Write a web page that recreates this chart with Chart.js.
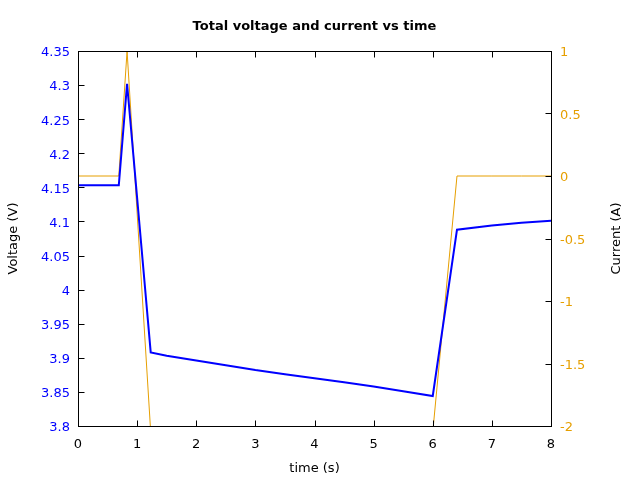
<!DOCTYPE html>
<html><head><meta charset="utf-8">
<script src="https://cdn.jsdelivr.net/npm/chart.js@4/dist/chart.umd.min.js"></script>
<style>html,body{margin:0;padding:0;background:#fff}</style>
</head><body>
<canvas id="c" width="640" height="480" style="width:640px;height:480px;display:block"></canvas>
<script>
// Data
const timeS    = [0, 0.69, 0.83, 1.23, 1.5, 2, 2.5, 3, 3.5, 4, 4.5, 5, 5.5, 6.0, 6.41, 7, 7.5, 8];
const voltageV = [4.153, 4.153, 4.302, 3.908, 3.903, 3.896, 3.889, 3.882, 3.876, 3.870, 3.864, 3.858, 3.851, 3.844, 4.088, 4.094, 4.098, 4.101];
const currentA = [0, 0, 1, -2.05, -2.05, -2.05, -2.05, -2.05, -2.05, -2.05, -2.05, -2.05, -2.05, -2.05, 0, 0, 0, 0];
const timeTicks = [0, 1, 2, 3, 4, 5, 6, 7, 8];
const voltTicks = [3.8, 3.85, 3.9, 3.95, 4, 4.05, 4.1, 4.15, 4.2, 4.25, 4.3, 4.35];
const currTicks = [-2, -1.5, -1, -0.5, 0, 0.5, 1];
const chartTitle = 'Total voltage and current vs time';

const BLUE = '#0000ff';
const ORANGE = '#e69f00';
const FONT = 'DejaVu Sans';
Chart.defaults.font.family = FONT;
Chart.defaults.font.size = 13;

const setTicks = arr => scale => { scale.ticks = arr.map(v => ({value: v})); };

const framePlugin = {
  id: 'frame',
  afterDatasetsDraw(chart) {
    const {ctx, chartArea: a, scales} = chart;
    const L = Math.floor(a.left) + 0.5, R = Math.floor(a.right) + 0.5;
    const T = Math.floor(a.top) + 0.5, B = Math.floor(a.bottom) + 0.5;
    const TL = 6;
    ctx.save();
    ctx.strokeStyle = '#000';
    ctx.lineWidth = 1;
    ctx.beginPath();
    scales.x.ticks.forEach(t => {
      const p = Math.round(scales.x.getPixelForValue(t.value)) + 0.5;
      ctx.moveTo(p, B); ctx.lineTo(p, B - TL);
      ctx.moveTo(p, T); ctx.lineTo(p, T + TL);
    });
    scales.y.ticks.forEach(t => {
      const p = Math.round(scales.y.getPixelForValue(t.value)) + 0.5;
      ctx.moveTo(L, p); ctx.lineTo(L + TL, p);
    });
    scales.y2.ticks.forEach(t => {
      const p = Math.round(scales.y2.getPixelForValue(t.value)) + 0.5;
      ctx.moveTo(R, p); ctx.lineTo(R - TL, p);
    });
    ctx.stroke();
    ctx.strokeRect(L, T, R - L, B - T);
    ctx.fillStyle = '#000';
    ctx.textAlign = 'center';
    ctx.textBaseline = 'middle';
    // title centred over the plot area
    ctx.font = 'bold 13px "' + FONT + '"';
    ctx.fillText(chartTitle, (a.left + a.right) / 2, 27);
    // right axis title, reading bottom-to-top
    ctx.font = '13px "' + FONT + '"';
    ctx.translate(617, (a.top + a.bottom) / 2);
    ctx.rotate(-Math.PI / 2);
    ctx.fillText('Current (A)', 0, 0);
    ctx.restore();
  }
};

new Chart(document.getElementById('c'), {
  type: 'line',
  data: {
    datasets: [
      {
        label: 'Voltage',
        data: timeS.map((t, i) => ({x: t, y: voltageV[i]})),
        borderColor: BLUE, borderWidth: 2, pointRadius: 0, tension: 0,
        yAxisID: 'y', order: 1
      },
      {
        label: 'Current',
        data: timeS.map((t, i) => ({x: t, y: currentA[i]})),
        borderColor: ORANGE, borderWidth: 1, pointRadius: 0, tension: 0,
        yAxisID: 'y2', order: 2
      }
    ]
  },
  options: {
    responsive: false,
    animation: false,
    layout: {padding: {top: 51, left: 0, right: 0, bottom: 0}},
    plugins: {
      legend: {display: false},
      tooltip: {enabled: false},
      title: {display: false}
    },
    scales: {
      x: {
        type: 'linear', min: 0, max: 8,
        afterBuildTicks: setTicks(timeTicks),
        afterFit: s => { s.height = 54; },
        grid: {display: false, drawTicks: false},
        border: {display: false},
        ticks: {color: '#000', padding: 11, maxRotation: 0, autoSkip: false, callback: v => String(v)},
        title: {display: true, text: 'time (s)', color: '#000', font: {size: 13}, padding: {top: 0, bottom: 3.2}}
      },
      y: {
        type: 'linear', position: 'left', min: 3.8, max: 4.35,
        afterBuildTicks: setTicks(voltTicks),
        afterFit: s => { s.width = 78; },
        grid: {display: false, drawTicks: false},
        border: {display: false},
        ticks: {color: BLUE, padding: 8, labelOffset: 2, autoSkip: false, callback: v => String(Math.round(v * 100) / 100)},
        title: {display: true, text: 'Voltage (V)', color: '#000', font: {size: 13}, padding: {top: 6.2, bottom: 0}}
      },
      y2: {
        type: 'linear', position: 'right', min: -2, max: 1,
        afterBuildTicks: setTicks(currTicks),
        afterFit: s => { s.width = 89; },
        grid: {display: false, drawTicks: false},
        border: {display: false},
        ticks: {color: ORANGE, padding: 9, labelOffset: 2, autoSkip: false, callback: v => String(v)}
      }
    }
  },
  plugins: [framePlugin]
});
</script>
</body></html>
